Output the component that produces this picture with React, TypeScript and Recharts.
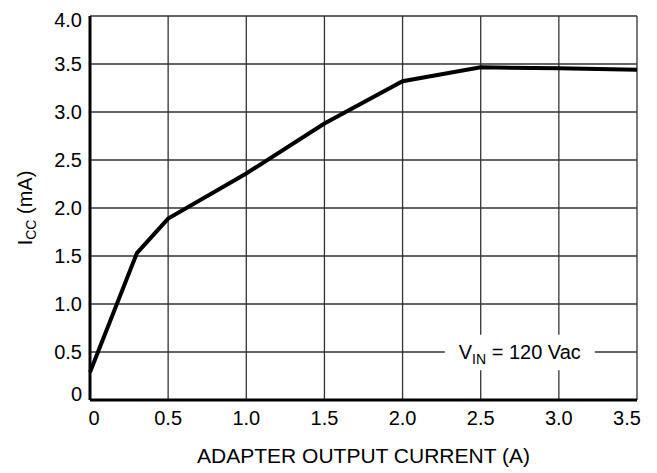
import React from 'react'
import { LineChart, Line, XAxis, YAxis, CartesianGrid, ReferenceArea } from 'recharts'

// adapter output current (A) and matching Icc (mA)
const currentA = [0, 0.3, 0.5, 1.0, 1.5, 2.0, 2.5, 3.0, 3.5]
const iccMa = [0.29, 1.53, 1.89, 2.36, 2.88, 3.32, 3.465, 3.455, 3.44]

const xTicks = [0, 0.5, 1.0, 1.5, 2.0, 2.5, 3.0, 3.5]
const yTicks = [0, 0.5, 1.0, 1.5, 2.0, 2.5, 3.0, 3.5, 4.0]

const noteLabel = { name: 'V', sub: 'IN', rest: ' = 120 Vac' }
const noteBox = { x1: 2.27, x2: 3.23, y1: 0.31, y2: 0.68 }

const fmt = (v: number) => (v === 0 ? '0' : v.toFixed(1))

const FONT = '"Liberation Sans", Arial, Helvetica, sans-serif'

const XTick = (props: any) => {
  const { x, y, payload } = props
  const v = payload.value
  // end labels sit pulled inside the frame
  const dx = v === 0 ? 4 : v === 3.5 ? -10 : 0
  return (
    <text x={x + dx} y={y} dy="0.71em" textAnchor="middle" fontSize={20} fill="#000" fontFamily={FONT}>
      {fmt(v)}
    </text>
  )
}

const YTick = (props: any) => {
  const { x, y, payload } = props
  const v = payload.value
  const shift = v === 0 ? -6 : v === 4 ? 3.5 : 0
  return (
    <text x={x} y={y + shift} dy="0.355em" textAnchor="end" fontSize={20} fill="#000" fontFamily={FONT}>
      {fmt(v)}
    </text>
  )
}

const YTitle = (props: any) => {
  const vb = props.viewBox || { x: 0, y: 16, width: 90, height: 384 }
  const cx = vb.x + 32
  const cy = vb.y + vb.height / 2
  return (
    <text
      x={cx}
      y={cy}
      transform={`rotate(-90 ${cx} ${cy})`}
      textAnchor="middle"
      fontSize={20}
      fill="#000"
      fontFamily={FONT}
    >
      I<tspan fontSize={14} dy={4}>CC</tspan>
      <tspan dy={-4}> (mA)</tspan>
    </text>
  )
}

const NoteLabel = (props: any) => {
  const vb = props.viewBox
  if (!vb) return null
  const cx = vb.x + vb.width / 2
  const cy = vb.y + vb.height / 2
  return (
    <text x={cx} y={cy + 6.5} textAnchor="middle" fontSize={20} fill="#000" fontFamily={FONT}>
      {noteLabel.name}
      <tspan fontSize={14} dy={5}>{noteLabel.sub}</tspan>
      <tspan dy={-5}>{noteLabel.rest}</tspan>
    </text>
  )
}

const App: React.FC = () => {
  const data = currentA.map((a, i) => ({ a, icc: iccMa[i] }))

  return (
    <div style={{ width: 657, height: 473, background: '#fff' }}>
      <style>{'body{margin:0}'}</style>
      <LineChart
        width={657}
        height={473}
        data={data}
        margin={{ top: 16, right: 20, bottom: 0, left: 0 }}
        style={{ fontFamily: FONT }}
      >
        <CartesianGrid stroke="#333" strokeWidth={1.3} />
        <XAxis
          dataKey="a"
          type="number"
          domain={[0, 3.5]}
          ticks={xTicks}
          interval={0}
          height={73}
          tickLine={false}
          tickMargin={5}
          axisLine={{ stroke: '#000', strokeWidth: 3 }}
          tick={<XTick />}
          label={{
            value: 'ADAPTER OUTPUT CURRENT (A)',
            position: 'insideBottom',
            offset: 10,
            fontSize: 21,
            fill: '#000',
            fontFamily: FONT,
          }}
        />
        <YAxis
          type="number"
          domain={[0, 4]}
          ticks={yTicks}
          interval={0}
          width={90}
          tickLine={false}
          axisLine={{ stroke: '#000', strokeWidth: 3 }}
          tick={<YTick />}
          label={{ content: <YTitle /> }}
        />
        <ReferenceArea
          x1={noteBox.x1}
          x2={noteBox.x2}
          y1={noteBox.y1}
          y2={noteBox.y2}
          fill="#fff"
          fillOpacity={1}
          stroke="none"
          label={{ content: <NoteLabel /> }}
        />
        <Line
          type="linear"
          dataKey="icc"
          stroke="#000"
          strokeWidth={4}
          dot={false}
          isAnimationActive={false}
        />
      </LineChart>
    </div>
  )
}

export default App
